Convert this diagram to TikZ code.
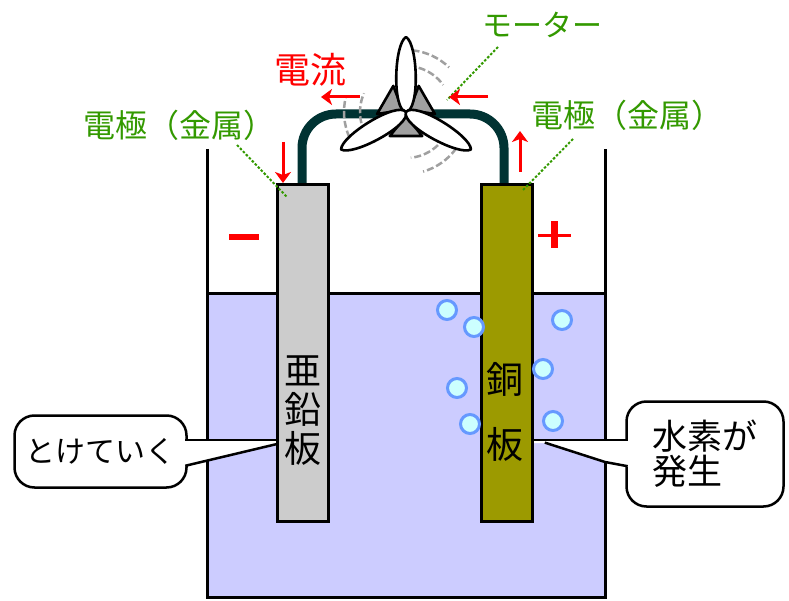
\documentclass[tikz,border=0pt]{standalone}
\usepackage{fontspec}
\newfontfamily\jpfont{Noto Sans CJK JP}
\usetikzlibrary{arrows.meta}

\definecolor{water}{HTML}{CCCCFF}
\definecolor{zinc}{HTML}{CCCCCC}
\definecolor{copper}{HTML}{9C9A00}
\definecolor{wirecol}{HTML}{003333}
\definecolor{labelgreen}{HTML}{339900}
\definecolor{gasedge}{HTML}{6699FF}
\definecolor{gasfill}{HTML}{CCFFFF}
\definecolor{blurgray}{HTML}{A0A0A0}
\definecolor{webgray}{HTML}{A0A0A0}

\tikzset{
  wall/.style={line width=3pt, line join=miter},
  plate/.style={draw=black, line width=3pt, minimum width=51pt, minimum height=337pt, inner sep=0pt},
  platetext/.style={inner sep=0pt, align=center},
  callout/.style={draw=black, fill=white, line width=2.5pt, rounded corners=20pt, inner sep=0pt,
                  font={\jpfont\fontsize{30}{35}\selectfont}},
  tailedge/.style={line width=2.5pt, line cap=rect},
  gas/.style={draw=gasedge, fill=gasfill, line width=3pt},
  wirestyle/.style={wirecol, line width=9pt, rounded corners=34pt},
  blade/.style={draw=black, fill=white, line width=2.6pt, line join=round},
  web/.style={draw=black, fill=webgray, line width=2.6pt, line join=round},
  motion/.style={blurgray, line width=2.5pt, dash pattern=on 7pt off 3pt},
  greenlabel/.style={inner sep=0pt, text=labelgreen, font={\jpfont\fontsize{32}{36}\selectfont}},
  leader/.style={labelgreen, line width=2pt, dash pattern=on 2.5pt off 1.8pt},
  currentarrow/.style={red, line width=3pt, -{Stealth[length=11pt, width=16pt, inset=3pt]}},
}

\begin{document}
\begin{tikzpicture}[x=1pt, y=-1pt]
\useasboundingbox (0,0) rectangle (789,601);

% beaker with electrolyte
\fill[water] (207,294) rectangle (605,597);
\draw[wall] (207,149) -- (207,597) -- (605,597) -- (605,149);
\draw[wall] (207,294) -- (605,294);

% speech balloons with their tails
\node[callout, minimum width=172pt, minimum height=72pt] (melt) at (100.5,451.5) {とけていく};
\fill[white] (180,440) -- (277,440) -- (277,444) -- (180,467) -- cycle;
\draw[tailedge] (186.5,440) -- (277,440);
\draw[tailedge] (277,444) -- (186.5,465.5);

\node[callout, minimum width=157pt, minimum height=105pt, align=left,
      font={\jpfont\fontsize{35}{35}\selectfont}] (gasnote) at (705,454) {水素が\\発生};
\fill[white] (534,440) -- (633,440) -- (633,468) -- (605,462) -- (546,443) -- (534,443) -- cycle;
\draw[tailedge] (534,440) -- (626.5,440);
\draw[tailedge] (546,443) -- (605,462) -- (626.5,466);

% electrodes
\node[plate, fill=zinc] (zn) at (303,353) {};
\node[plate, fill=copper] (cu) at (507,353) {};
\node[platetext, font={\jpfont\fontsize{37}{39}\selectfont}] (zntext) at (303,411) {亜\\鉛\\板};
\node[platetext, font={\jpfont\fontsize{37}{65}\selectfont}] (cutext) at (505,412) {銅\\板};

% hydrogen bubbles
\foreach \bx/\by in {447/310, 474/327, 562/320, 543/369, 457/388, 470/424, 553/421} {
  \draw[gas] (\bx,\by) circle[radius=9.5];
}

% lead wire to the motor
\coordinate (motor) at (406,114);
\draw[wirestyle] ([xshift=-1pt]zn.north) |- (motor) -| ([xshift=-3pt]cu.north);

% motor fan: polar points follow the downward y axis, rotate= follows the page
\begin{scope}[shift={(406,112)}]
  % motion streaks trailing each blade
  \foreach \a in {270,150,30} {
    \draw[motion] ({\a+6}:62) arc[start angle={\a+6}, end angle={\a+44}, radius=62];
    \draw[motion] ({\a+16}:46) arc[start angle={\a+16}, end angle={\a+54}, radius=46];
  }
  % grey webs between the blades
  \foreach \a in {330,210,90} {
    \draw[web] (\a:4) -- ({\a+34}:29) -- ({\a-34}:29) -- cycle;
  }
  % blades
  \foreach \a in {90,210,330} {
    \draw[blade, rotate=\a] (0,0) .. controls (2,14) and (68,12) .. (75,0)
                                  .. controls (68,-12) and (2,-14) .. (0,0);
  }
\end{scope}

% labels
\node[greenlabel] (elL) at (179,125) {電極（金属）};
\node[greenlabel] (elR) at (627,115) {電極（金属）};
\node[greenlabel, font={\jpfont\fontsize{30}{34}\selectfont}] (motorlabel) at (542,25) {モーター};
\node[inner sep=0pt, text=red, font={\jpfont\fontsize{36}{40}\selectfont}] (current) at (310,70) {電流};

% leader lines
\coordinate (elLfoot) at (237,145);
\coordinate (elLtip) at (287,197);
\coordinate (elRfoot) at (573,139);
\coordinate (elRtip) at (523,190);
\coordinate (motorfoot) at (498,47);
\coordinate (motortip) at (447,100);
\draw[leader] (elLfoot) -- (elLtip);
\draw[leader] (elRfoot) -- (elRtip);
\draw[leader] (motorfoot) -- (motortip);

% direction of current
\draw[currentarrow] (360,97) -- (321,97);
\draw[currentarrow] (488,97) -- (449,97);
\draw[currentarrow] (283,142) -- (283,183);
\draw[currentarrow] (520,172) -- (520,131);

% polarity signs
\fill[red] (229,234) rectangle (259,240);
\fill[red] (538,234) rectangle (571,237);
\fill[red] (551,221) rectangle (558,248);
\end{tikzpicture}
\end{document}
